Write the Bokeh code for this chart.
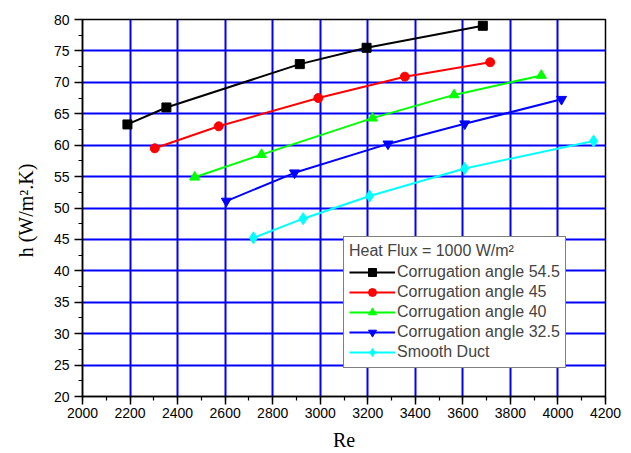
from bokeh.plotting import figure
from bokeh.models import Legend, LegendItem, SingleIntervalTicker, FixedTicker, Range1d
from bokeh.embed import file_html
from bokeh.resources import INLINE

# Data
re_545 = [2189, 2353, 2914, 3195, 3684]
h_545 = [63.3, 66.0, 72.9, 75.5, 79.0]

re_45 = [2304, 2573, 2992, 3356, 3715]
h_45 = [59.5, 63.0, 67.5, 70.9, 73.2]

re_40 = [2472, 2753, 3220, 3563, 3930]
h_40 = [54.9, 58.5, 64.3, 68.0, 71.1]

re_325 = [2605, 2892, 3285, 3608, 4015]
h_325 = [51.1, 55.6, 60.2, 63.4, 67.3]

re_sm = [2719, 2928, 3208, 3608, 4150]
h_sm = [45.25, 48.3, 51.9, 56.3, 60.65]

series = [
    ("Corrugation angle 54.5", re_545, h_545, "black", "square", 9),
    ("Corrugation angle 45", re_45, h_45, "red", "circle", 9),
    ("Corrugation angle 40", re_40, h_40, "#00ff00", "triangle", 10),
    ("Corrugation angle 32.5", re_325, h_325, "#0000ff", "inverted_triangle", 10),
    ("Smooth Duct", re_sm, h_sm, "cyan", "diamond", 12),
]

x_ticks = list(range(2000, 4201, 200))
y_ticks = list(range(20, 81, 5))

p = figure(width=631, height=453, output_backend="svg", toolbar_location=None,
           x_range=Range1d(2000, 4200), y_range=Range1d(20, 80))
p.min_border_left = 82
p.min_border_right = 26
p.min_border_top = 19
p.min_border_bottom = 54
p.background_fill_color = "white"
p.border_fill_color = "white"
p.outline_line_color = "black"
p.outline_line_width = 1.5
p.outline_line_alpha = 1.0

for ax, ticks in ((p.xaxis[0], x_ticks), (p.yaxis[0], y_ticks)):
    ax.ticker = SingleIntervalTicker(interval=ticks[1] - ticks[0], num_minor_ticks=2)
    ax.major_tick_out = 8
    ax.major_tick_in = 0
    ax.minor_tick_out = 4
    ax.minor_tick_in = 0
    ax.axis_line_width = 1.5
    ax.major_tick_line_width = 1.5
    ax.minor_tick_line_width = 1.2
    ax.major_label_text_font = "Liberation Sans"
    ax.major_label_text_font_size = "14px"
    ax.major_label_text_color = "black"
    ax.axis_label_text_font = "Liberation Serif"
    ax.axis_label_text_font_size = "20px"
    ax.axis_label_text_font_style = "normal"
    ax.axis_label_text_color = "black"

p.xaxis.axis_label = "Re"
p.yaxis.axis_label = "h  (W/m\u00b2.K)"
p.xaxis.major_label_standoff = 3
p.xaxis.axis_label_standoff = 8
p.yaxis.major_label_standoff = 5
p.yaxis.axis_label_standoff = 14

p.xgrid.ticker = FixedTicker(ticks=x_ticks[1:-1])
p.ygrid.ticker = FixedTicker(ticks=y_ticks[1:-1])
for g in (p.xgrid[0], p.ygrid[0]):
    g.grid_line_color = "#0000ff"
    g.grid_line_width = 2
    g.grid_line_alpha = 1.0

items = []
for name, xs, ys, color, marker, size in series:
    ln = p.line(xs, ys, line_color=color, line_width=2)
    sc = p.scatter(xs, ys, marker=marker, size=size, fill_color=color, line_color=color)
    items.append(LegendItem(label=name, renderers=[ln, sc]))

legend = Legend(items=items, location=(261, 28), margin=0)
legend.title = "Heat Flux = 1000 W/m\u00b2"
legend.title_text_font = "Liberation Sans"
legend.title_text_font_size = "16px"
legend.title_text_font_style = "normal"
legend.title_standoff = 2
legend.label_text_font = "Liberation Sans"
legend.label_text_font_size = "16px"
legend.label_height = 20
legend.glyph_height = 20
legend.glyph_width = 46
legend.label_standoff = 2
legend.spacing = 0
legend.padding = 5
legend.border_line_color = "black"
legend.border_line_width = 1.5
legend.background_fill_alpha = 1.0
p.add_layout(legend, "center")

open("out.html", "w").write(file_html(p, INLINE))
